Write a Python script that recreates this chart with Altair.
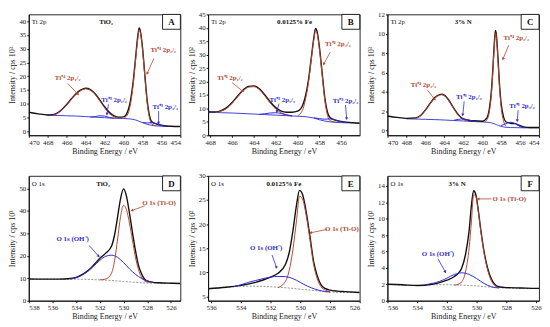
import math
import pandas as pd
import altair as alt

FONT = "Liberation Serif"
BLACK = "#111111"
BROWN = "#b5482f"
BLUE = "#2c2cd2"
GRAY = "#7a7a7a"

# ---------------- Panel A : Ti 2p, TiO2 ----------------
A_env_x = [470, 469, 468, 467.5, 467, 466.5, 466, 465.5, 465, 464.5, 464, 463.5, 463, 462.5, 462, 461.5, 461, 460.5, 460,
           459.5, 459.25, 459, 458.75, 458.5, 458.35, 458.2, 458, 457.75, 457.5, 457.25, 457, 456.5, 456, 455.5, 455, 454]
A_env_y = [6.9, 6.3, 5.9, 6.0, 6.6, 7.9, 9.7, 11.8, 13.7, 15.0, 15.6, 15.1, 13.6, 11.3, 8.9, 6.9, 5.6, 5.1, 5.2,
           7.8, 11.5, 17.5, 26.0, 34.5, 37.6, 36.0, 30.5, 20.5, 11.0, 5.5, 3.4, 2.6, 2.2, 1.9, 1.8, 1.7]
A_bg_x = [468, 467, 466, 465, 464, 463, 462, 461, 460, 459.5, 459, 458.5, 458, 457.5, 457, 456.5, 456, 455, 454]
A_bg_y = [5.8, 5.7, 5.6, 5.5, 5.3, 5.1, 4.9, 4.7, 4.6, 4.5, 4.3, 3.8, 3.1, 2.5, 2.1, 1.9, 1.8, 1.7, 1.7]
A_t4a_x = [467.5, 467, 466.5, 466, 465.5, 465, 464.5, 464, 463.5, 463, 462.5, 462, 461.5, 461, 460.5]
A_t4a_y = [5.8, 6.4, 7.7, 9.5, 11.6, 13.5, 14.8, 15.4, 14.9, 13.4, 11.0, 8.5, 6.4, 5.2, 4.7]
A_t4b_x = [460, 459.5, 459.25, 459, 458.75, 458.5, 458.35, 458.2, 458, 457.75, 457.5, 457.25, 457, 456.5]
A_t4b_y = [4.6, 6.6, 10.2, 16.4, 25.0, 33.5, 36.9, 35.4, 29.8, 19.6, 10.0, 4.6, 2.5, 1.95]
A_t3a_x = [463.5, 463, 462.5, 462, 461.5, 461]
A_t3a_y = [5.1, 5.3, 5.6, 5.5, 5.0, 4.7]
A_t3b_x = [458, 457.5, 457, 456.5, 456, 455.5]
A_t3b_y = [3.2, 3.0, 3.1, 2.6, 2.0, 1.8]

# ---------------- Panel B : Ti 2p, 0.0125% Fe ----------------
B_env_x = [468.2, 467.5, 467, 466.5, 466, 465.5, 465, 464.5, 464, 463.5, 463, 462.5, 462, 461.5, 461, 460.5, 460,
           459.5, 459.25, 459, 458.75, 458.5, 458.35, 458.2, 458, 457.75, 457.5, 457.25, 457, 456.5, 456, 455.5, 455, 454.3]
B_env_y = [8.7, 8.7, 9.2, 10.3, 12.2, 14.6, 16.8, 18.2, 18.4, 17.3, 15.0, 12.4, 10.3, 9.0, 8.6, 8.6, 9.0,
           11.5, 15.0, 20.5, 28.5, 36.5, 39.8, 38.5, 33.0, 23.5, 14.0, 8.5, 6.5, 5.6, 5.2, 4.9, 4.7, 4.5]
B_bg_x = [468.2, 467, 466, 465, 464, 463, 462, 461, 460, 459.5, 459, 458.5, 458, 457.5, 457, 456.5, 456, 455, 454.3]
B_bg_y = [8.6, 8.4, 8.3, 8.1, 7.9, 7.7, 7.5, 7.3, 7.1, 7.0, 6.8, 6.4, 5.8, 5.3, 5.0, 4.8, 4.7, 4.6, 4.5]
B_t4a_x = [467.5, 467, 466.5, 466, 465.5, 465, 464.5, 464, 463.5, 463, 462.5, 462, 461.5, 461, 460.5]
B_t4a_y = [8.5, 9.0, 10.0, 11.9, 14.3, 16.5, 17.9, 18.1, 17.0, 14.7, 12.0, 9.8, 8.4, 7.6, 7.2]
B_t4b_x = [460, 459.5, 459.25, 459, 458.75, 458.5, 458.35, 458.2, 458, 457.75, 457.5, 457.25, 457, 456.5]
B_t4b_y = [7.2, 9.8, 13.8, 19.5, 27.8, 35.8, 39.0, 37.8, 32.3, 22.6, 13.0, 7.4, 5.4, 4.9]
B_t3a_x = [463.5, 463, 462.5, 462, 461.5, 461, 460.5]
B_t3a_y = [7.8, 8.0, 8.3, 8.4, 8.1, 7.6, 7.2]
B_t3b_x = [458.5, 458, 457.5, 457, 456.5, 456, 455.5]
B_t3b_y = [6.5, 6.2, 6.0, 6.1, 5.6, 5.0, 4.7]

# ---------------- Panel C : Ti 2p, 3% N ----------------
C_env_x = [470, 469, 468, 467, 466.5, 466, 465.5, 465, 464.5, 464.25, 464, 463.5, 463, 462.5, 462, 461.5, 461, 460,
           459.5, 459.25, 459, 458.85, 458.7, 458.6, 458.5, 458.35, 458.2, 458, 457.75, 457.5, 457, 456.5, 456, 455.5, 455, 454]
C_env_y = [1.5, 1.35, 1.25, 1.3, 1.55, 2.1, 2.8, 3.4, 3.7, 3.75, 3.65, 3.1, 2.3, 1.6, 1.2, 1.05, 1.0, 0.95,
           1.3, 2.2, 4.4, 6.8, 9.3, 10.35, 9.9, 7.8, 5.2, 2.8, 1.4, 0.9, 0.75, 0.7, 0.5, 0.35, 0.3, 0.3]
C_bg_x = [468, 467, 466, 465, 464, 463, 462, 461, 460, 459.5, 459, 458.5, 458, 457.5, 457, 456, 455, 454]
C_bg_y = [1.2, 1.18, 1.15, 1.12, 1.08, 1.03, 0.98, 0.93, 0.88, 0.85, 0.78, 0.6, 0.42, 0.33, 0.3, 0.28, 0.27, 0.27]
C_t4a_x = [467, 466.5, 466, 465.5, 465, 464.5, 464.25, 464, 463.5, 463, 462.5, 462, 461.5]
C_t4a_y = [1.25, 1.5, 2.05, 2.75, 3.35, 3.65, 3.7, 3.6, 3.05, 2.25, 1.55, 1.15, 1.0]
C_t4b_x = [459.75, 459.5, 459.25, 459, 458.85, 458.7, 458.6, 458.5, 458.35, 458.2, 458, 457.75, 457.5]
C_t4b_y = [0.9, 1.1, 1.9, 4.1, 6.5, 9.0, 10.1, 9.6, 7.5, 4.9, 2.4, 1.0, 0.45]
C_t3a_x = [463, 462.5, 462, 461.5, 461, 460.5]
C_t3a_y = [1.05, 1.15, 1.2, 1.1, 0.97, 0.9]
C_t3b_x = [458, 457.5, 457, 456.5, 456, 455.5]
C_t3b_y = [0.5, 0.7, 0.85, 0.7, 0.4, 0.28]

# ---------------- Panel D : O 1s, TiO2 ----------------
D_env_x = [538, 537, 536, 535, 534.5, 534, 533.5, 533, 532.5, 532, 531.5, 531, 530.75, 530.5, 530.25, 530, 529.75,
           529.5, 529.25, 529, 528.75, 528.5, 528.25, 528, 527.5, 527, 526, 525.2]
D_env_y = [9.7, 9.6, 9.6, 9.7, 9.9, 10.4, 11.6, 13.4, 16.0, 18.9, 21.2, 24.5, 29.5, 37.5, 45.5, 49.8, 46.5,
           39.0, 30.5, 22.5, 16.0, 12.2, 9.8, 8.8, 8.2, 8.0, 7.8, 7.7]
D_bg_x = [538, 536, 534, 533, 532, 531, 530, 529, 528, 527, 525.2]
D_bg_y = [9.7, 9.6, 9.6, 9.5, 9.3, 9.0, 8.6, 8.2, 7.9, 7.8, 7.7]
D_tio_x = [532, 531.5, 531, 530.75, 530.5, 530.25, 530, 529.75, 529.5, 529.25, 529, 528.75, 528.5, 528.25, 528, 527.5]
D_tio_y = [9.3, 9.7, 12.5, 18.0, 27.5, 37.5, 42.5, 40.5, 34.5, 27.0, 19.5, 14.0, 10.6, 8.9, 8.3, 8.1]
D_oh_x = [534.5, 534, 533.5, 533, 532.5, 532, 531.5, 531, 530.5, 530, 529.5, 529, 528.5, 528, 527.5]
D_oh_y = [9.7, 10.2, 11.4, 13.2, 15.5, 18.0, 19.8, 20.3, 19.3, 17.0, 14.2, 11.8, 10.0, 8.8, 8.2]

# ---------------- Panel E : O 1s, 0.0125% Fe ----------------
E_env_x = [536.2, 535, 534, 533, 532.5, 532, 531.5, 531, 530.75, 530.5, 530.25, 530.05, 529.85, 529.6, 529.35,
           529.1, 528.85, 528.6, 528.3, 528, 527.5, 527, 526]
E_env_y = [6.6, 6.9, 7.3, 7.9, 8.4, 9.0, 9.8, 11.6, 14.0, 18.5, 24.0, 27.0, 26.2, 22.5, 17.5,
           12.2, 9.2, 7.4, 6.6, 6.3, 6.1, 6.0, 5.8]
E_bg_x = [536.2, 535, 534, 533, 532, 531, 530, 529, 528, 527, 526]
E_bg_y = [6.6, 6.9, 7.1, 7.1, 7.0, 6.8, 6.5, 6.2, 5.9, 5.8, 5.8]
E_tio_x = [531.5, 531, 530.75, 530.5, 530.25, 530.05, 529.85, 529.6, 529.35, 529.1, 528.85, 528.6, 528.3, 528]
E_tio_y = [6.8, 8.1, 10.3, 14.6, 20.8, 25.8, 25.2, 21.8, 16.8, 11.6, 8.6, 7.0, 6.3, 6.0]
E_oh_x = [534.5, 534, 533.5, 533, 532.5, 532, 531.5, 531, 530.5, 530, 529.5, 529, 528.5, 528]
E_oh_y = [7.0, 7.4, 7.9, 8.3, 8.7, 9.0, 9.15, 9.1, 8.7, 7.9, 7.1, 6.5, 6.1, 5.9]

# ---------------- Panel F : O 1s, 3% N ----------------
F_env_x = [536, 535, 534, 533, 532.5, 532, 531.5, 531.25, 531, 530.75, 530.5, 530.35, 530.2, 530.05, 529.9,
           529.7, 529.5, 529.25, 529, 528.75, 528.5, 528, 527, 526, 525.8]
F_env_y = [2.0, 1.95, 1.85, 2.0, 2.2, 2.5, 2.95, 3.3, 4.0, 5.6, 8.6, 11.6, 13.4, 12.9, 11.2,
           8.4, 6.0, 3.9, 2.6, 1.95, 1.7, 1.6, 1.55, 1.5, 1.5]
F_bg_x = [536, 534, 533, 532, 531, 530, 529, 528, 527, 525.8]
F_bg_y = [2.0, 1.85, 1.95, 1.95, 1.9, 1.8, 1.65, 1.55, 1.5, 1.5]
F_tio_x = [531.5, 531.25, 531, 530.75, 530.5, 530.35, 530.2, 530.05, 529.9, 529.7, 529.5, 529.25, 529, 528.75, 528.5]
F_tio_y = [1.9, 2.0, 2.3, 3.5, 6.5, 9.6, 12.9, 12.7, 11.0, 8.2, 5.8, 3.7, 2.4, 1.8, 1.6]
F_oh_x = [533.5, 533, 532.5, 532, 531.5, 531, 530.5, 530, 529.5, 529, 528.5]
F_oh_y = [1.95, 2.1, 2.35, 2.75, 3.2, 3.4, 3.2, 2.7, 2.1, 1.7, 1.55]

# ---------------- axes ----------------
A_xdom, A_ydom = [470, 454], [-1.5, 42.5]
B_xdom, B_ydom = [468.2, 454.3], [0, 45]
C_xdom, C_ydom = [470, 454], [-0.5, 12]
D_xdom, D_ydom = [538, 525.2], [0, 55.6]
E_xdom, E_ydom = [536.2, 526], [4.1, 30]
F_xdom, F_ydom = [536, 525.8], [0, 15.2]
A_xticks = [470, 468, 466, 464, 462, 460, 458, 456, 454]
B_xticks = [468, 466, 464, 462, 460, 458, 456]
C_xticks = [470, 468, 466, 464, 462, 460, 458, 456, 454]
D_xticks = [538, 536, 534, 532, 530, 528, 526]
E_xticks = [536, 534, 532, 530, 528, 526]
F_xticks = [536, 534, 532, 530, 528, 526]
A_yticks = [0, 5, 10, 15, 20, 25, 30, 35, 40]
B_yticks = [0, 5, 10, 15, 20, 25, 30, 35, 40, 45]
C_yticks = [0, 2, 4, 6, 8, 10, 12]
D_yticks = [0, 10, 20, 30, 40, 50]
E_yticks = [5, 10, 15, 20, 25, 30]
F_yticks = [0, 2, 4, 6, 8, 10, 12, 14]

# ---------------- annotations (text, x, y) and arrows (x1, y1, x2, y2) ----------------
TI_LABELS = ["Ti⁺⁴ 2p₁/₂", "Ti⁺⁴ 2p₃/₂", "Ti⁺³ 2p₁/₂", "Ti⁺³ 2p₃/₂"]
TI_COLORS = [BROWN, BROWN, BLUE, BLUE]
O_LABELS = ["O 1s (Ti-O)", "O 1s (OH⁻)"]
O_COLORS = [BROWN, BLUE]

A_lab_x = [465.9, 455.8, 461.0, 455.6]
A_lab_y = [19.5, 29.5, 11.2, 8.8]
A_arr = [(465.9, 17.4, 464.8, 13.4), (456.8, 26.5, 457.5, 21.0), (461.6, 9.8, 461.75, 6.2), (456.3, 7.3, 456.3, 2.9)]
B_lab_x = [466.2, 456.3, 461.4, 455.6]
B_lab_y = [21.5, 34.0, 13.3, 12.8]
B_arr = [(466.0, 19.6, 465.0, 16.3), (457.0, 31.0, 457.6, 26.5), (461.7, 11.8, 461.9, 8.8), (455.6, 11.3, 455.5, 6.2)]
C_lab_x = [466.2, 456.4, 461.4, 455.8]
C_lab_y = [4.7, 9.6, 3.45, 2.5]
C_arr = [(465.8, 4.2, 465.0, 3.2), (457.2, 8.8, 457.8, 7.4), (461.9, 3.0, 462.05, 1.6), (456.2, 2.1, 456.3, 1.0)]
D_lab_x = [527.0, 534.3]
D_lab_y = [43.4, 27.5]
D_arr = [(528.2, 42.3, 529.3, 40.2), (532.9, 24.6, 532.1, 19.8)]
E_lab_x = [527.2, 532.3]
E_lab_y = [18.9, 15.1]
E_arr = [(528.2, 18.9, 529.3, 18.2), (531.9, 13.6, 531.6, 11.0)]
F_lab_x = [527.8, 532.6]
F_lab_y = [12.4, 5.7]
F_arr = [(529.0, 12.4, 529.9, 12.4), (532.6, 5.1, 532.1, 3.5)]


def curves_df(items):
    rows = []
    for name, xs, ys in items:
        for x, y in zip(xs, ys):
            rows.append({"x": x, "y": y, "curve": name})
    return pd.DataFrame(rows)


def make_panel(W, H, xdom, ydom, xticks, yticks, ytitle, groups, labels, lab_x, lab_y, colors, arrows,
               left_head, mid_head, mid_frac, letter, bg_style):
    xsc = alt.Scale(domain=[min(xdom), max(xdom)], reverse=True, nice=False, zero=False)
    ysc = alt.Scale(domain=ydom, nice=False, zero=False)
    X = alt.X("x:Q", scale=xsc, axis=alt.Axis(values=xticks, format="d", title="Binding Energy / eV"))
    Y = alt.Y("y:Q", scale=ysc, axis=alt.Axis(values=yticks, format="d", title=ytitle))

    def px(x):
        return (xdom[0] - x) / (xdom[0] - xdom[1]) * W

    def py(y):
        return H - (y - ydom[0]) / (ydom[1] - ydom[0]) * H

    layers = []
    styles = {
        "bg": bg_style,
        "env": dict(color=BLACK, strokeWidth=1.4),
        "brown": dict(color=BROWN, strokeWidth=1.0),
        "blue": dict(color=BLUE, strokeWidth=1.0),
    }
    for key in ["bg", "env", "brown", "blue"]:
        df = curves_df(groups[key])
        layers.append(alt.Chart(df).mark_line(interpolate="monotone", clip=True, **styles[key]).encode(
            x=X, y=Y, detail="curve:N"))

    # arrows
    arr_rows, head_rows = [], []
    for (x1, y1, x2, y2), c in zip(arrows, colors):
        arr_rows.append({"x": x1, "y": y1, "x2": x2, "y2": y2, "c": c})
        dx = px(x2) - px(x1)
        dy = py(y2) - py(y1)
        ang = math.degrees(math.atan2(dx, -dy)) % 360
        head_rows.append({"x": x2, "y": y2, "c": c, "ang": ang})
    layers.append(alt.Chart(pd.DataFrame(arr_rows)).mark_rule(strokeWidth=0.8).encode(
        x=X, y=Y, x2="x2:Q", y2="y2:Q", color=alt.Color("c:N", scale=None)))
    layers.append(alt.Chart(pd.DataFrame(head_rows)).mark_point(shape="triangle-up", filled=True, size=10, opacity=1).encode(
        x=X, y=Y, angle=alt.Angle("ang:Q", scale=None), color=alt.Color("c:N", scale=None)))

    # labels
    lab_df = pd.DataFrame({"x": lab_x, "y": lab_y, "t": labels, "c": colors})
    layers.append(alt.Chart(lab_df).mark_text(font=FONT, fontSize=7, fontWeight="bold").encode(
        x=X, y=Y, text="t:N", color=alt.Color("c:N", scale=None)))

    one = pd.DataFrame({"t": [0]})
    layers.append(alt.Chart(one).mark_text(font=FONT, fontSize=7, align="left", baseline="top", color=BLACK).encode(
        x=alt.value(3), y=alt.value(4), text=alt.value(left_head)))
    layers.append(alt.Chart(one).mark_text(font=FONT, fontSize=7, fontWeight="bold", baseline="top", color=BLACK).encode(
        x=alt.value(W * mid_frac), y=alt.value(4), text=alt.value(mid_head)))
    layers.append(alt.Chart(one).mark_rect(fill="white", stroke=BLACK, strokeWidth=0.9).encode(
        x=alt.value(W - 18), x2=alt.value(W), y=alt.value(0), y2=alt.value(15)))
    layers.append(alt.Chart(one).mark_text(font=FONT, fontSize=9, fontWeight="bold", color=BLACK).encode(
        x=alt.value(W - 9), y=alt.value(8), text=alt.value(letter)))

    return alt.layer(*layers).properties(width=W, height=H)


BG_TI = dict(color=BLUE, strokeWidth=0.9)
BG_O = dict(color=GRAY, strokeWidth=0.8, strokeDash=[2, 1.5])

WT, HT = 153, 122
HB = 126

pA = make_panel(WT, HT, A_xdom, A_ydom, A_xticks, A_yticks, "Intensity / cps 10³",
                {"bg": [("bg", A_bg_x, A_bg_y)], "env": [("env", A_env_x, A_env_y)],
                 "brown": [("a", A_t4a_x, A_t4a_y), ("b", A_t4b_x, A_t4b_y)],
                 "blue": [("a", A_t3a_x, A_t3a_y), ("b", A_t3b_x, A_t3b_y)]},
                TI_LABELS, A_lab_x, A_lab_y, TI_COLORS, A_arr, "Ti 2p", "TiO₂", 0.51, "A", BG_TI)
pB = make_panel(WT, HT, B_xdom, B_ydom, B_xticks, B_yticks, "Intensity / cps 10²",
                {"bg": [("bg", B_bg_x, B_bg_y)], "env": [("env", B_env_x, B_env_y)],
                 "brown": [("a", B_t4a_x, B_t4a_y), ("b", B_t4b_x, B_t4b_y)],
                 "blue": [("a", B_t3a_x, B_t3a_y), ("b", B_t3b_x, B_t3b_y)]},
                TI_LABELS, B_lab_x, B_lab_y, TI_COLORS, B_arr, "Ti 2p", "0.0125% Fe", 0.57, "B", BG_TI)
pC = make_panel(WT, HT, C_xdom, C_ydom, C_xticks, C_yticks, "Intensity / cps 10³",
                {"bg": [("bg", C_bg_x, C_bg_y)], "env": [("env", C_env_x, C_env_y)],
                 "brown": [("a", C_t4a_x, C_t4a_y), ("b", C_t4b_x, C_t4b_y)],
                 "blue": [("a", C_t3a_x, C_t3a_y), ("b", C_t3b_x, C_t3b_y)]},
                TI_LABELS, C_lab_x, C_lab_y, TI_COLORS, C_arr, "Ti 2p", "3% N", 0.5, "C", BG_TI)
pD = make_panel(WT, HB, D_xdom, D_ydom, D_xticks, D_yticks, "Intensity / cps 10³",
                {"bg": [("bg", D_bg_x, D_bg_y)], "env": [("env", D_env_x, D_env_y)],
                 "brown": [("a", D_tio_x, D_tio_y)], "blue": [("a", D_oh_x, D_oh_y)]},
                O_LABELS, D_lab_x, D_lab_y, O_COLORS, D_arr, "O 1s", "TiO₂", 0.49, "D", BG_O)
pE = make_panel(WT, HB, E_xdom, E_ydom, E_xticks, E_yticks, "Intensity / cps 10²",
                {"bg": [("bg", E_bg_x, E_bg_y)], "env": [("env", E_env_x, E_env_y)],
                 "brown": [("a", E_tio_x, E_tio_y)], "blue": [("a", E_oh_x, E_oh_y)]},
                O_LABELS, E_lab_x, E_lab_y, O_COLORS, E_arr, "O 1s", "0.0125% Fe", 0.5, "E", BG_O)
pF = make_panel(WT, HB, F_xdom, F_ydom, F_xticks, F_yticks, "Intensity / cps 10²",
                {"bg": [("bg", F_bg_x, F_bg_y)], "env": [("env", F_env_x, F_env_y)],
                 "brown": [("a", F_tio_x, F_tio_y)], "blue": [("a", F_oh_x, F_oh_y)]},
                O_LABELS, F_lab_x, F_lab_y, O_COLORS, F_arr, "O 1s", "3% N", 0.46, "F", BG_O)

row1 = alt.hconcat(pA, pB, pC, spacing=6)
row2 = alt.hconcat(pD, pE, pF, spacing=6)
chart = alt.vconcat(row1, row2, spacing=15).properties(padding=0, background="white").configure_view(
    stroke=BLACK, strokeWidth=0.9
).configure_axis(
    grid=False, labelFont=FONT, titleFont=FONT, labelFontSize=7, titleFontSize=8,
    titleFontWeight="normal", labelColor="#222222", titleColor="#222222",
    domainColor=BLACK, tickColor=BLACK, tickSize=2, labelPadding=1, titlePadding=2
)

chart.save("out.html", embed_options={"renderer": "svg", "actions": False})
